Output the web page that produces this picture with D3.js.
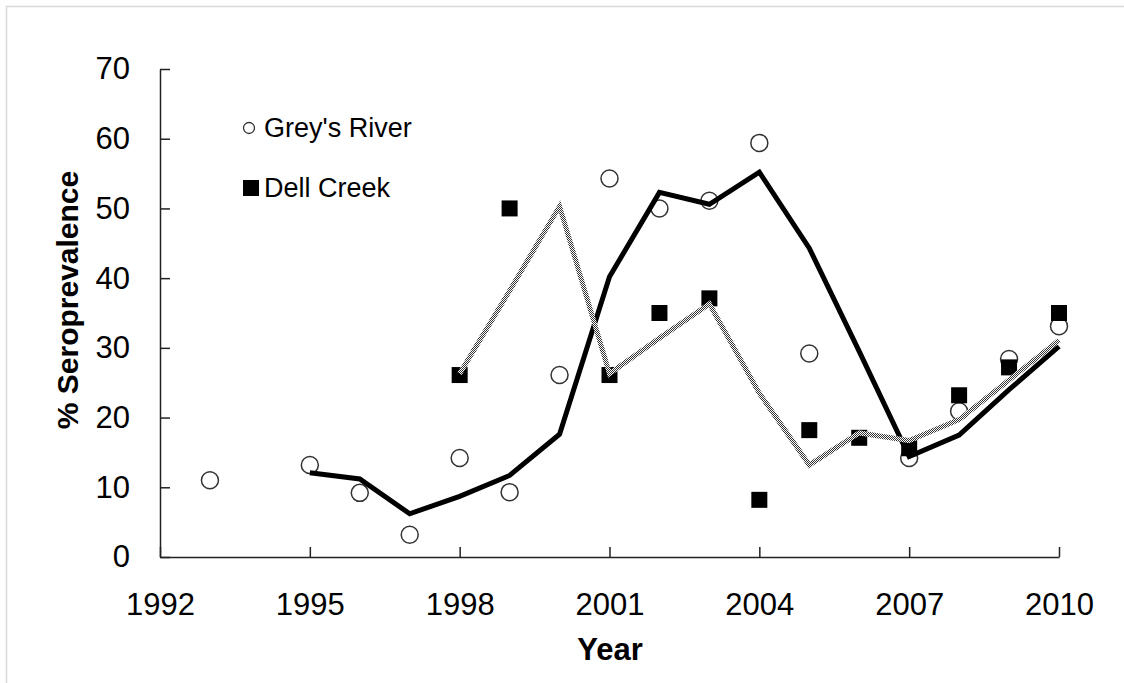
<!DOCTYPE html>
<html>
<head>
<meta charset="utf-8">
<script src="https://cdn.jsdelivr.net/npm/d3@7"></script>
<style>
  html, body { margin: 0; padding: 0; background: #fff; }
  svg { display: block; font-family: "Liberation Sans", Arial, sans-serif; }
</style>
</head>
<body>
<svg id="chart" width="1124" height="683"></svg>
<script>
// Grey's River, observed points
const greysYears = [1993, 1995, 1996, 1997, 1998, 1999, 2000, 2001, 2002, 2003, 2004, 2005, 2007, 2008, 2009, 2010];
const greysValues = [11, 13.2, 9.2, 3.2, 14.2, 9.3, 26.1, 54.3, 50, 51.1, 59.4, 29.2, 14.2, 20.9, 28.4, 33.1];

// Dell Creek, observed points
const dellYears = [1998, 1999, 2001, 2002, 2003, 2004, 2005, 2006, 2007, 2008, 2009, 2010];
const dellValues = [26.1, 50, 26.1, 35, 37.1, 8.2, 18.2, 17.1, 15.6, 23.2, 27.2, 35];

// trend lines
const greysTrendYears = [1995, 1996, 1997, 1998, 1999, 2000, 2001, 2002, 2003, 2004, 2005, 2006, 2007, 2008, 2009, 2010];
const greysTrend = [12.1, 11.2, 6.2, 8.7, 11.7, 17.6, 40.2, 52.3, 50.6, 55.2, 44.3, 29.5, 14.4, 17.5, 24.0, 30.2];
const dellTrendYears = [1998, 1999, 2000, 2001, 2002, 2003, 2004, 2005, 2006, 2007, 2008, 2009, 2010];
const dellTrend = [26.3, 38.2, 50.3, 26.3, 31.4, 36.3, 23.5, 13.2, 17.8, 16.7, 19.7, 25.4, 31.1];

const xTicks = [1992, 1995, 1998, 2001, 2004, 2007, 2010];
const yTicks = [0, 10, 20, 30, 40, 50, 60, 70];

const svg = d3.select("#chart");

// outer frame
svg.append("rect")
  .attr("x", 6.5).attr("y", 6.5)
  .attr("width", 1130).attr("height", 690)
  .attr("fill", "none")
  .attr("stroke", "#d9d9d9")
  .attr("stroke-width", 1.5);

// checkered grey for the Dell Creek trend
const defs = svg.append("defs");
const pat = defs.append("pattern")
  .attr("id", "checker")
  .attr("patternUnits", "userSpaceOnUse")
  .attr("width", 2).attr("height", 2);
pat.append("rect").attr("width", 2).attr("height", 2).attr("fill", "#fff");
pat.append("rect").attr("width", 1).attr("height", 1).attr("fill", "#333");
pat.append("rect").attr("x", 1).attr("y", 1).attr("width", 1).attr("height", 1).attr("fill", "#333");

const x = d3.scaleLinear().domain([1992, 2010]).range([160, 1059]);
const y = d3.scaleLinear().domain([0, 70]).range([557, 69]);

// axes
const xAxis = svg.append("g")
  .attr("transform", `translate(0,${y(0)})`)
  .call(d3.axisBottom(x).tickValues(xTicks).tickFormat(d3.format("d"))
    .tickSizeInner(-10).tickSizeOuter(0).tickPadding(36));
const yAxis = svg.append("g")
  .attr("transform", `translate(${x(1992)},0)`)
  .call(d3.axisLeft(y).tickValues(yTicks)
    .tickSizeInner(-10).tickSizeOuter(0).tickPadding(30));

[xAxis, yAxis].forEach((g) => {
  g.select(".domain").attr("stroke", "#222").attr("stroke-width", 1.5);
  g.selectAll(".tick line").attr("stroke", "#222").attr("stroke-width", 1.5);
  g.selectAll(".tick text")
    .attr("fill", "#000")
    .style("font-size", "31px")
    .style("font-family", '"Liberation Sans", Arial, sans-serif');
});

// axis titles
svg.append("text")
  .attr("x", 610).attr("y", 660)
  .attr("text-anchor", "middle")
  .style("font-size", "31px").style("font-weight", "bold")
  .text("Year");
svg.append("text")
  .attr("transform", "translate(78,300) rotate(-90)")
  .attr("text-anchor", "middle")
  .style("font-size", "30px").style("font-weight", "bold")
  .text("% Seroprevalence");

// points
const greys = greysYears.map((d, i) => ({ year: d, value: greysValues[i] }));
const dell = dellYears.map((d, i) => ({ year: d, value: dellValues[i] }));

svg.append("g").selectAll("circle")
  .data(greys)
  .join("circle")
  .attr("cx", (d) => x(d.year))
  .attr("cy", (d) => y(d.value))
  .attr("r", 8.5)
  .attr("fill", "#fff")
  .attr("stroke", "#333")
  .attr("stroke-width", 1.5);

svg.append("g").selectAll("rect")
  .data(dell)
  .join("rect")
  .attr("x", (d) => x(d.year) - 8)
  .attr("y", (d) => y(d.value) - 8)
  .attr("width", 16)
  .attr("height", 16)
  .attr("fill", "#000");

// trend lines
const line = d3.line().x((d) => x(d.year)).y((d) => y(d.value));

svg.append("path")
  .datum(greysTrendYears.map((d, i) => ({ year: d, value: greysTrend[i] })))
  .attr("d", line)
  .attr("fill", "none")
  .attr("stroke", "#000")
  .attr("stroke-width", 5)
  .attr("stroke-linejoin", "miter");

svg.append("path")
  .datum(dellTrendYears.map((d, i) => ({ year: d, value: dellTrend[i] })))
  .attr("d", line)
  .attr("fill", "none")
  .attr("stroke", "url(#checker)")
  .attr("stroke-width", 5)
  .attr("stroke-linejoin", "miter");

// legend
const legend = svg.append("g");
legend.append("circle")
  .attr("cx", 249).attr("cy", 128).attr("r", 5.5)
  .attr("fill", "#fff").attr("stroke", "#333").attr("stroke-width", 1.3);
legend.append("text")
  .attr("x", 264).attr("y", 137)
  .style("font-size", "27px")
  .text("Grey's River");
legend.append("rect")
  .attr("x", 243).attr("y", 180).attr("width", 16).attr("height", 16)
  .attr("fill", "#000");
legend.append("text")
  .attr("x", 264).attr("y", 197)
  .style("font-size", "27px")
  .text("Dell Creek");
</script>
</body>
</html>
